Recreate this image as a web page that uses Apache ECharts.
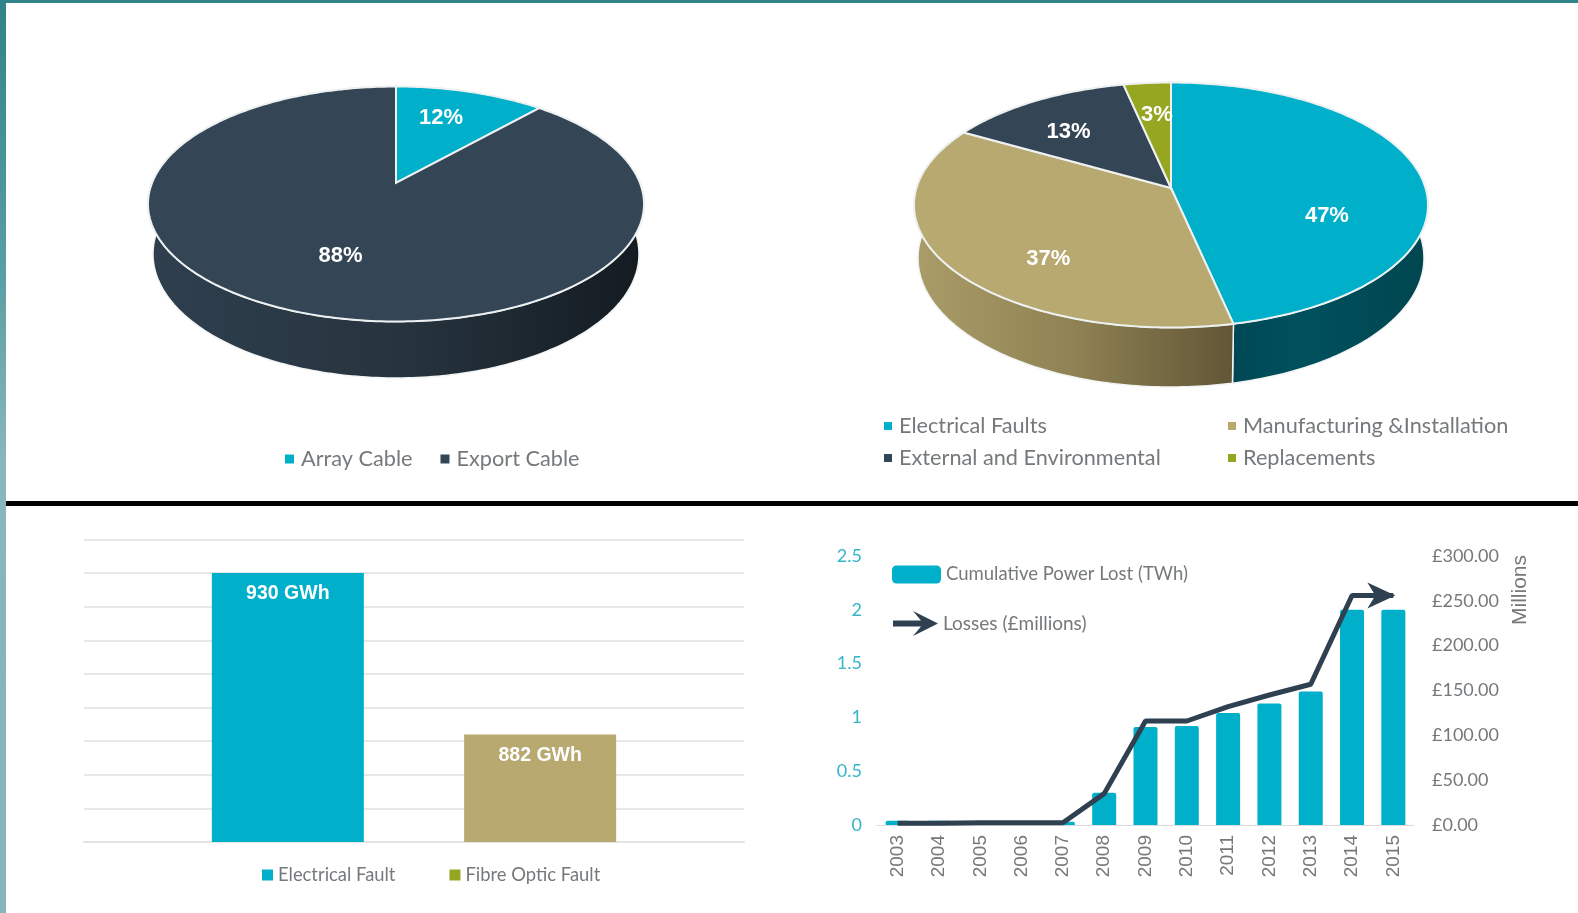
<!DOCTYPE html>
<html>
<head>
<meta charset="utf-8">
<title>Cable faults</title>
<style>
  html, body { margin: 0; padding: 0; background: #fff; }
  #chart { width: 1578px; height: 913px; }
</style>
<script src="https://cdn.jsdelivr.net/npm/echarts@6/dist/echarts.min.js"></script>
</head>
<body>
<div id="chart"></div>
<script>
// data, the labels show the shares rounded
const cableNames = ['Array Cable', 'Export Cable']
const cableShares = [11.6, 88.4]
const faultNames = ['Electrical Faults', 'Manufacturing &Installation', 'External and Environmental', 'Replacements']
const faultShares = [46.6, 36.6, 13.4, 3.4]
const energyNames = ['Electrical Fault', 'Fibre Optic Fault']
const energyValues = [930, 882]
const years = ['2003', '2004', '2005', '2006', '2007', '2008', '2009', '2010', '2011', '2012', '2013', '2014', '2015']
const powerLost = [0.04, 0.04, 0.03, 0.03, 0.03, 0.3, 0.91, 0.92, 1.04, 1.13, 1.24, 2, 2]
const losses = [2, 2, 2.5, 2.5, 2.5, 35, 116, 116, 132, 145, 157, 256, 256]

const TEAL = '#00afca'
const TAN = '#b8a970'
const NAVY = '#344556'
const OLIVE = '#97a621'
const GREY = '#75797c'
const LEGEND_FONT = 'Lato'
const ARROW_HEAD = 'path://M0 0 L28 13 L0 26 L8 13 Z'
const ARROW_ICON = 'path://M0 9.5 H28 L20 0 L45 12.5 L20 25 L28 15.5 H0 Z'

function gradient(stops) {
  return new echarts.graphic.LinearGradient(0, 0, 1, 0, stops.map((c, i) => ({ offset: i / (stops.length - 1), color: c })))
}

// unit circle to the tilted disc: the centre sits above the middle of the ellipse
function rimPoint(cx, cy, rx, ry, a, deg, f) {
  const t = deg * Math.PI / 180
  const u = Math.sin(t) * f
  const v = -Math.cos(t) * f
  const d = 1 - a * v
  return [cx + rx * u * Math.sqrt(1 - a * a) / d, cy + ry * (v - a) / d]
}

function pieSeries(geo, names, shares, colors, walls, nudges) {
  const total = shares.reduce((s, v) => s + v, 0)
  let acc = 0
  return names.map((name, i) => {
    const start = acc / total * 360
    acc += shares[i]
    const end = acc / total * 360
    return {
      type: 'custom',
      name: name,
      coordinateSystem: 'none',
      itemStyle: { color: colors[i] },
      silent: true,
      animation: false,
      data: [[start, end, shares[i]]],
      renderItem(params, api) {
        const from = api.value(0)
        const to = api.value(1)
        const top = []
        const bottom = []
        for (let d = from; d < to; d += 1) {
          top.push(rimPoint(geo.cx, geo.cy, geo.rx, geo.ry, geo.a, d, 1))
          bottom.push(rimPoint(geo.cx, geo.bottomCy, geo.bottomRx, geo.bottomRy, geo.a, d, 1))
        }
        top.push(rimPoint(geo.cx, geo.cy, geo.rx, geo.ry, geo.a, to, 1))
        bottom.push(rimPoint(geo.cx, geo.bottomCy, geo.bottomRx, geo.bottomRy, geo.a, to, 1))
        const apex = rimPoint(geo.cx, geo.cy, geo.rx, geo.ry, geo.a, 0, 0)
        const labelAt = rimPoint(geo.cx, geo.cy, geo.rx, geo.ry, geo.a, (from + to) / 2, 0.65)
        return {
          type: 'group',
          children: [
            {
              type: 'polygon',
              z2: 1,
              shape: { points: top.concat(bottom.slice().reverse()) },
              style: { fill: gradient(walls[i]), stroke: '#f2f4f4', lineWidth: 1.5 }
            },
            {
              type: 'polygon',
              z2: 10,
              shape: { points: [apex].concat(top) },
              style: { fill: colors[i], stroke: '#eef1f1', lineWidth: 2 }
            },
            {
              type: 'text',
              z2: 20,
              style: {
                text: Math.round(api.value(2)) + '%',
                x: labelAt[0] + nudges[i][0],
                y: labelAt[1] + nudges[i][1],
                align: 'center',
                verticalAlign: 'middle',
                fill: '#fff',
                font: 'bold 22px "Liberation Sans"'
              }
            }
          ]
        }
      }
    }
  })
}

const leftPie = { cx: 396, cy: 204, rx: 248, ry: 117.5, a: 0.18, bottomCy: 254, bottomRx: 243, bottomRy: 124 }
const rightPie = { cx: 1171, cy: 205, rx: 257, ry: 122.5, a: 0.139, bottomCy: 258, bottomRx: 253, bottomRy: 129 }

const legendText = { color: GREY, fontFamily: LEGEND_FONT, fontSize: 21.7, padding: [0, 0, 0, 2] }

const chart = echarts.init(document.getElementById('chart'))
chart.setOption({
  animation: false,
  backgroundColor: '#fff',
  graphic: [
    { type: 'rect', shape: { x: 0, y: 0, width: 1578, height: 3 }, style: { fill: '#2f8389' } },
    {
      type: 'rect',
      shape: { x: 0, y: 0, width: 6, height: 913 },
      style: {
        fill: new echarts.graphic.LinearGradient(0, 0, 0, 1, [
          { offset: 0, color: '#2f8389' },
          { offset: 0.3, color: '#5a9ea4' },
          { offset: 0.5, color: '#88b6ba' },
          { offset: 1, color: '#88b5b9' }
        ])
      }
    },
    { type: 'rect', shape: { x: 6, y: 501, width: 1572, height: 5 }, style: { fill: '#000' } },
    {
      type: 'text',
      x: 1520,
      y: 590,
      rotation: Math.PI / 2,
      style: {
        text: 'Millions',
        align: 'center',
        verticalAlign: 'middle',
        fill: GREY,
        font: '21px "Liberation Sans"'
      }
    }
  ],
  legend: [
    {
      left: 280, top: 443, icon: 'rect', itemWidth: 9, itemHeight: 9, itemGap: 28,
      data: cableNames, textStyle: legendText, selectedMode: false
    },
    {
      left: 879, top: 410, orient: 'vertical', icon: 'rect', itemWidth: 8, itemHeight: 8, itemGap: 10,
      data: [faultNames[0], faultNames[2]], textStyle: legendText, selectedMode: false
    },
    {
      left: 1223, top: 410, orient: 'vertical', icon: 'rect', itemWidth: 8, itemHeight: 8, itemGap: 10,
      data: [faultNames[1], faultNames[3]], textStyle: legendText, selectedMode: false
    },
    {
      left: 257, top: 861, icon: 'rect', itemWidth: 11, itemHeight: 11, itemGap: 54,
      data: [
        { name: energyNames[0], itemStyle: { color: TEAL } },
        { name: energyNames[1], itemStyle: { color: OLIVE } }
      ],
      textStyle: { color: GREY, fontFamily: LEGEND_FONT, fontSize: 18.4 }, selectedMode: false
    },
    {
      left: 887, top: 560, icon: 'roundRect', itemWidth: 49, itemHeight: 18,
      data: ['Cumulative Power Lost (TWh)'],
      textStyle: { color: GREY, fontFamily: LEGEND_FONT, fontSize: 18.5 }, selectedMode: false
    },
    {
      left: 888, top: 606, itemWidth: 45, itemHeight: 25,
      data: [{ name: 'Losses (£millions)', icon: ARROW_ICON }],
      textStyle: { color: GREY, fontFamily: LEGEND_FONT, fontSize: 19 }, selectedMode: false
    }
  ],
  grid: [
    { left: 84, top: 539.5, width: 660, height: 302.4 },
    { left: 877, top: 556, width: 537, height: 269 }
  ],
  xAxis: [
    {
      gridIndex: 0,
      type: 'category',
      data: [''],
      axisLabel: { show: false },
      axisTick: { show: false },
      axisLine: { lineStyle: { color: '#e2e4e4', width: 2 } }
    },
    {
      gridIndex: 1,
      type: 'category',
      data: years,
      axisLine: { lineStyle: { color: '#dcdcdc', width: 1 } },
      axisTick: { length: 4, lineStyle: { color: '#dcdcdc' } },
      axisLabel: { rotate: 90, margin: 10, interval: 0, color: GREY, fontFamily: 'Liberation Sans', fontSize: 19 }
    }
  ],
  yAxis: [
    {
      gridIndex: 0,
      type: 'value',
      min: 850,
      max: 940,
      interval: 10,
      axisLabel: { show: false },
      axisTick: { show: false },
      axisLine: { show: false },
      splitLine: { lineStyle: { color: '#e6e8e8', width: 2 } }
    },
    {
      gridIndex: 1,
      type: 'value',
      min: 0,
      max: 2.5,
      interval: 0.5,
      splitLine: { show: false },
      axisLine: { show: false },
      axisTick: { show: false },
      axisLabel: { color: '#35b5c9', fontFamily: 'Lato', fontSize: 18, margin: 15 }
    },
    {
      gridIndex: 1,
      type: 'value',
      position: 'right',
      min: 0,
      max: 300,
      interval: 50,
      splitLine: { show: false },
      axisLine: { show: false },
      axisTick: { show: false },
      axisLabel: {
        color: GREY,
        fontFamily: 'Lato',
        fontSize: 18,
        margin: 18,
        formatter: v => '£' + v.toFixed(2)
      }
    }
  ],
  series: [
    ...pieSeries(leftPie, cableNames, cableShares, [TEAL, NAVY], [
      ['#00505e', '#00505e'],
      ['#2f3f4e', '#27343f', '#131b21']
    ], [[-6, -3], [8, -4]]),
    ...pieSeries(rightPie, faultNames, faultShares, [TEAL, TAN, NAVY, OLIVE], [
      ['#003f4c', '#00505e', '#00464f'],
      ['#ab9d69', '#8f8253', '#615536'],
      ['#27343f', '#27343f'],
      ['#6b7618', '#6b7618']
    ], [[-7, 36], [18, 22], [-11, 3], [2, -2]]),
    {
      type: 'bar',
      name: energyNames[0],
      xAxisIndex: 0,
      yAxisIndex: 0,
      data: [energyValues[0]],
      barWidth: 152,
      barGap: '66%',
      itemStyle: { color: TEAL },
      label: {
        show: true,
        position: 'insideTop',
        distance: 11,
        formatter: '{c} GWh',
        color: '#fff',
        fontFamily: 'Liberation Sans',
        fontWeight: 'bold',
        fontSize: 19.5
      }
    },
    {
      type: 'bar',
      name: energyNames[1],
      xAxisIndex: 0,
      yAxisIndex: 0,
      data: [energyValues[1]],
      barWidth: 152,
      barGap: '66%',
      itemStyle: { color: TAN },
      label: {
        show: true,
        position: 'insideTop',
        distance: 11,
        formatter: '{c} GWh',
        color: '#fff',
        fontFamily: 'Liberation Sans',
        fontWeight: 'bold',
        fontSize: 19.5
      }
    },
    {
      type: 'bar',
      name: 'Cumulative Power Lost (TWh)',
      xAxisIndex: 1,
      yAxisIndex: 1,
      data: powerLost,
      barWidth: 24,
      itemStyle: { color: TEAL, borderRadius: [2, 2, 0, 0] }
    },
    {
      type: 'line',
      name: 'Losses (£millions)',
      xAxisIndex: 1,
      yAxisIndex: 2,
      symbol: 'none',
      lineStyle: { color: '#2f4050', width: 5 },
      itemStyle: { color: '#2f4050' },
      z: 5,
      data: losses.map((v, i) => i === losses.length - 1
        ? { value: v, symbol: ARROW_HEAD, symbolSize: [28, 26], symbolOffset: [-12, 0] }
        : v)
    }
  ]
})
</script>
</body>
</html>
